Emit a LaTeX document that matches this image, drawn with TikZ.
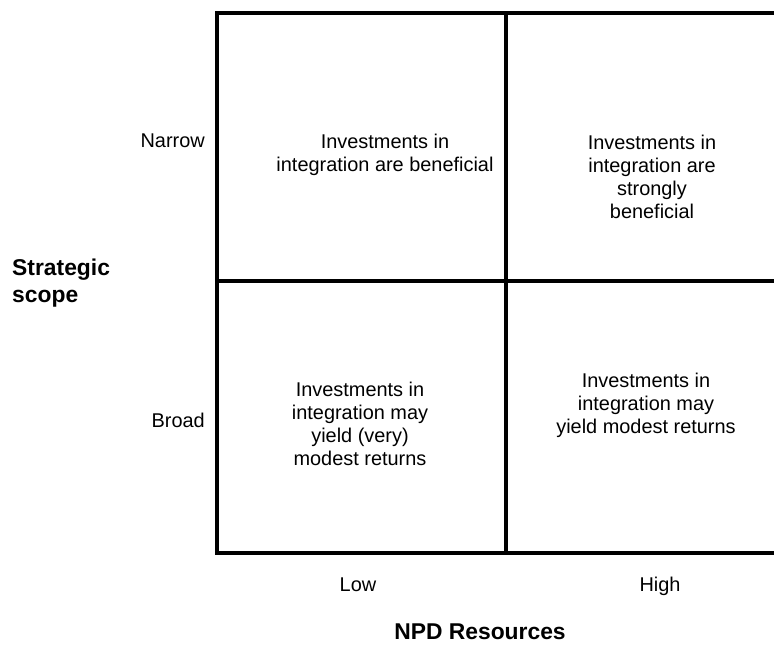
\documentclass[tikz,border=0pt]{standalone}
\usepackage{fontspec}
\setmainfont{Liberation Sans}
\usetikzlibrary{positioning}

\begin{document}
\begin{tikzpicture}[
    x=0.03cm, y=-0.03cm,
    cell/.style={
        align=center, inner sep=0pt,
        font=\fontsize{17}{19.6}\selectfont
    },
    level/.style={inner sep=0pt, font=\fontsize{17}{19.6}\selectfont},
    axis/.style={inner sep=0pt, align=left, font=\bfseries\fontsize{19.5}{23}\selectfont},
    frame/.style={line width=3pt, line cap=rect}
]
  \useasboundingbox (0,0) rectangle (774,646);

  % Corners of the matrix (the right side runs off the page)
  \coordinate (tl) at (217,13);
  \coordinate (bl) at (217,553);
  \coordinate (tr) at (774,13);
  \coordinate (br) at (774,553);
  \coordinate (ml) at (217,281);
  \coordinate (mr) at (774,281);
  \coordinate (mt) at (506,13);
  \coordinate (mb) at (506,553);

  \draw[frame] (tr) -- (tl) -- (bl) -- (br);
  \draw[frame] (ml) -- (mr);
  \draw[frame] (mt) -- (mb);

  % Cell texts
  \node[cell] (narrowLow) at (385,155) {Investments in\\integration are beneficial};
  \node[cell] (narrowHigh) at (652,177) {Investments in\\integration are\\strongly\\beneficial};
  \node[cell] (broadLow) at (360,424) {Investments in\\integration may\\yield (very)\\modest returns};
  \node[cell] (broadHigh) at (646,405) {Investments in\\integration may\\yield modest returns};

  % Row levels
  \node[level, anchor=base east] (narrow) at (205,148) {Narrow};
  \node[level, anchor=base east] (broad) at (205,427) {Broad};

  % Column levels
  \node[level, anchor=base] (low) at (358,591) {Low};
  \node[level, anchor=base] (high) at (660,591) {High};

  % Axis titles
  \node[axis, anchor=west] (scope) at (12,283) {Strategic\\scope};
  \node[axis] (resources) at (480,632) {NPD Resources};
\end{tikzpicture}
\end{document}
